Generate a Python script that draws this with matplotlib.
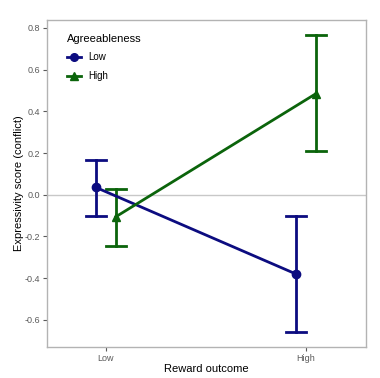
import matplotlib
matplotlib.use("Agg")
import matplotlib.pyplot as plt
from matplotlib.lines import Line2D

plt.rcParams["font.family"] = ["Liberation Sans", "DejaVu Sans"]

# data
reward = ["Low", "High"]
groups = ["Low", "High"]
means_low = [0.035, -0.38]
upper_low = [0.165, -0.10]
lower_low = [-0.10, -0.66]
means_high = [-0.105, 0.485]
upper_high = [0.03, 0.765]
lower_high = [-0.245, 0.21]

colors = {"Low": "#0c0c80", "High": "#0b640b"}
markers = {"Low": "o", "High": "^"}
dodge = {"Low": -0.05, "High": 0.05}

fig = plt.figure(figsize=(3.8, 3.78), dpi=100)
ax = fig.add_axes([47 / 380, 31 / 378, 319 / 380, 327 / 378])

ax.axhline(0, color="#c8c8c8", lw=1.0, zorder=0)

series = {
    "Low": (means_low, upper_low, lower_low),
    "High": (means_high, upper_high, lower_high),
}
for g in groups:
    m, up, lo = series[g]
    xs = [i + 1 + dodge[g] for i in range(len(reward))]
    c = colors[g]
    ax.plot(xs, m, color=c, lw=2, marker=markers[g], ms=6, zorder=3)
    for x, u, l in zip(xs, up, lo):
        ax.plot([x, x], [l, u], color=c, lw=2, zorder=2)
        ax.plot([x - 0.05, x + 0.05], [u, u], color=c, lw=2, zorder=2)
        ax.plot([x - 0.05, x + 0.05], [l, l], color=c, lw=2, zorder=2)

ax.set_xlim(0.705, 2.3)
ax.set_ylim(-0.73, 0.838)
ax.set_xticks([1, 2])
ax.set_xticklabels(reward)
ax.set_yticks([-0.6, -0.4, -0.2, 0.0, 0.2, 0.4, 0.6, 0.8])
ax.set_yticklabels(["-0.6", "-0.4", "-0.2", "0.0", "0.2", "0.4", "0.6", "0.8"])
ax.tick_params(colors="#5a5a5a", labelsize=6.5, length=3, width=0.8, pad=2)
for s in ax.spines.values():
    s.set_color("#b3b3b3")
    s.set_linewidth(1.0)

ax.set_xlabel("Reward outcome", fontsize=8, labelpad=1)
ax.set_ylabel("Expressivity score (conflict)", fontsize=8, labelpad=0)

handles = [
    Line2D([0], [0], color=colors[g], lw=2, marker=markers[g], ms=5.5)
    for g in groups
]
leg = ax.legend(handles, groups, title="Agreeableness", loc="upper left",
                bbox_to_anchor=(0.035, 0.985), frameon=False, fontsize=7,
                title_fontsize=8, handlelength=1.5, labelspacing=0.9,
                handletextpad=0.7)
leg._legend_box.align = "left"

fig.savefig("out.png", dpi=100)
